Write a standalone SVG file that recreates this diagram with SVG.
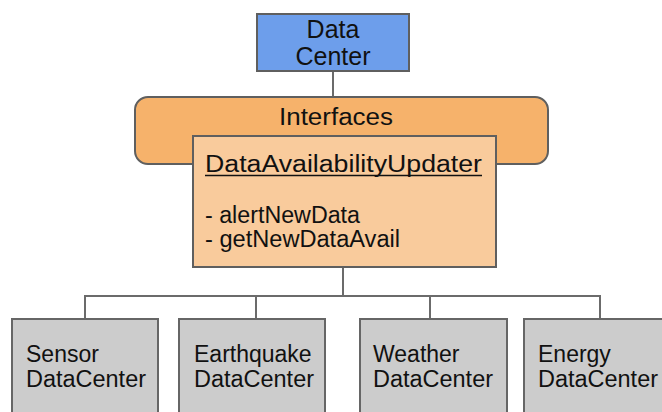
<svg xmlns="http://www.w3.org/2000/svg" width="662" height="412" viewBox="0 0 662 412">
<style>
text{font-family:"Liberation Sans",Arial,sans-serif;fill:#111;}
.box{stroke:#5f5f5f;stroke-width:2;}
.leaf{fill:#cccccc;stroke:#666;stroke-width:2;}
.conn{stroke:#6b6b6b;stroke-width:2;fill:none;}
.t{font-size:23px;}
.big{font-size:25px;}
</style>
<rect width="662" height="412" fill="#fff"/>
<g id="connectors">
<line class="conn" x1="333" y1="71" x2="333" y2="97"/>
<path class="conn" d="M343 267V296M85 319V296H600V319M256 296V319M430 296V319"/>
</g>
<g id="datacenter">
<rect class="box" x="257" y="14" width="152" height="57" fill="#6d9eeb"/>
<text class="big" x="333" y="38" text-anchor="middle">Data</text>
<text class="big" x="333" y="65" text-anchor="middle">Center</text>
</g>
<g id="interfaces">
<rect class="box" x="135" y="97" width="413" height="67" rx="13" fill="#f6b26b"/>
<text class="t" x="336" y="125" text-anchor="middle" textLength="114" lengthAdjust="spacingAndGlyphs">Interfaces</text>
</g>
<g id="updater">
<rect class="box" x="193" y="136" width="303" height="131" fill="#f9cb9c"/>
<text class="t" x="205" y="172" textLength="277" lengthAdjust="spacingAndGlyphs">DataAvailabilityUpdater</text>
<line x1="205" y1="175.5" x2="482" y2="175.5" stroke="#111" stroke-width="1.5"/>
<text class="t" x="205" y="223" textLength="155" lengthAdjust="spacingAndGlyphs">- alertNewData</text>
<text class="t" x="205" y="247" textLength="195" lengthAdjust="spacingAndGlyphs">- getNewDataAvail</text>
</g>
<g id="sensor">
<rect class="leaf" x="12" y="319" width="146" height="100"/>
<text class="t" x="26" y="362">Sensor</text>
<text class="t" x="26" y="387" textLength="120" lengthAdjust="spacingAndGlyphs">DataCenter</text>
</g>
<g id="earthquake">
<rect class="leaf" x="179" y="319" width="146" height="100"/>
<text class="t" x="194" y="362">Earthquake</text>
<text class="t" x="194" y="387" textLength="120" lengthAdjust="spacingAndGlyphs">DataCenter</text>
</g>
<g id="weather">
<rect class="leaf" x="360" y="319" width="147" height="100"/>
<text class="t" x="373" y="362">Weather</text>
<text class="t" x="373" y="387" textLength="120" lengthAdjust="spacingAndGlyphs">DataCenter</text>
</g>
<g id="energy">
<rect class="leaf" x="524" y="319" width="146" height="100"/>
<text class="t" x="538" y="362">Energy</text>
<text class="t" x="538" y="387" textLength="120" lengthAdjust="spacingAndGlyphs">DataCenter</text>
</g>
</svg>
